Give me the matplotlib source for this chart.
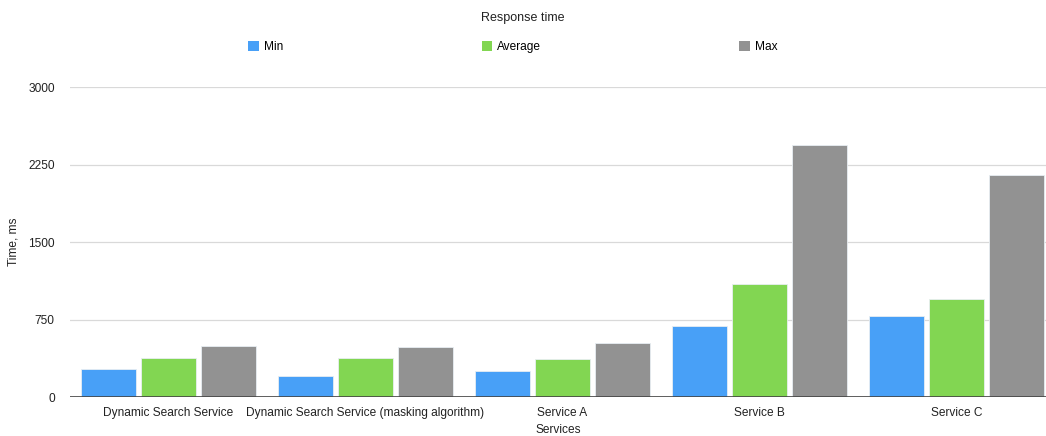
import numpy as np
import matplotlib.pyplot as plt
from matplotlib.patches import Patch

plt.rcParams['font.family'] = ['Liberation Sans', 'DejaVu Sans']

# Data
services = ['Dynamic Search Service', 'Dynamic Search Service (masking algorithm)',
            'Service A', 'Service B', 'Service C']
min_ms = [271, 203, 248, 684, 781]
avg_ms = [377, 374, 365, 1097, 945]
max_ms = [494, 481, 526, 2439, 2151]
series_names = ['Min', 'Average', 'Max']
colors = ['#48a0f7', '#82d652', '#929292']

fig = plt.figure(figsize=(10.46, 4.36), dpi=100)
ax = fig.add_axes([70 / 1046, 39 / 436, 976 / 1046, 310 / 436])

x = np.arange(len(services))
width = 0.28
offset = 0.305
for i, (vals, col) in enumerate(zip([min_ms, avg_ms, max_ms], colors)):
    ax.bar(x + (i - 1) * offset, vals, width, color=col,
           edgecolor='#e8eef2', linewidth=0.6, zorder=2)

ax.set_xlim(-0.5, -0.5 + 976 / 197)
ax.set_ylim(0, 3000)
ax.set_yticks([0, 750, 1500, 2250, 3000])
ax.set_xticks(x)
ax.set_xticklabels(services, fontsize=8.6, color='#222222')
ax.tick_params(axis='y', labelsize=8.6, colors='#222222', length=0, pad=11)
ax.tick_params(axis='x', length=0, pad=7)
ax.grid(axis='y', color='#d9d9d9', linewidth=0.9, zorder=0)
ax.axhline(0, color='#444444', linewidth=1.2, zorder=3)
for s in ax.spines.values():
    s.set_visible(False)

ax.set_ylabel('Time, ms', fontsize=8.6, color='#222222')
ax.yaxis.set_label_coords(-50 / 976, 0.5)
ax.set_xlabel('Services', fontsize=8.6, color='#222222')
ax.xaxis.set_label_coords(0.5, -27 / 310)

fig.text(523 / 1046, 1 - 18 / 436, 'Response time', ha='center', va='center',
         fontsize=9, color='#222222')

handles = [Patch(facecolor=c, edgecolor='none') for c in colors]
fig.legend(handles, series_names, loc='center', bbox_to_anchor=(513 / 1046, 1 - 47 / 436),
           ncol=3, frameon=False, fontsize=8.6, handlelength=0.85, handleheight=1.0,
           handletextpad=0.45, columnspacing=16.6)

fig.savefig('out.png', dpi=100)
